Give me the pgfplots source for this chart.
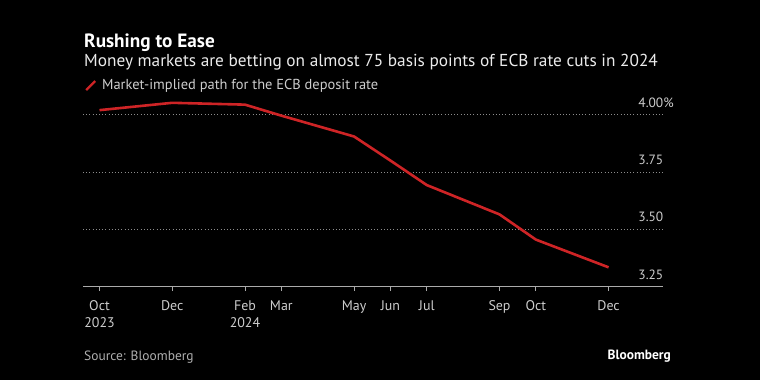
\documentclass[border=0pt]{standalone}
\usepackage{pgfplots}
\pgfplotsset{compat=1.18}
\usepackage{fontspec}
\setmainfont{PT Sans}
\definecolor{linered}{RGB}{206,36,38}
\definecolor{ticktxt}{RGB}{205,205,205}
\definecolor{gridc}{RGB}{140,140,140}
\definecolor{axisc}{RGB}{170,170,170}
\definecolor{srcc}{RGB}{175,175,175}
\begin{document}
\begin{tikzpicture}[x=1bp,y=1bp]
\fill[black] (0,0) rectangle (760,380);
\node[anchor=base west, inner sep=0, text=white, font=\bfseries\fontsize{19.3}{21}\selectfont] at (84,333) {Rushing to Ease};
\node[anchor=base west, inner sep=0, text=white!92!black, font=\fontsize{17.35}{19}\selectfont] at (84,313.5) {Money markets are betting on almost 75 basis points of ECB rate cuts in 2024};
\node[anchor=base west, inner sep=0, text=srcc, font=\fontsize{13.5}{15}\selectfont] at (84,20) {Source: Bloomberg};
\node[anchor=base east, inner sep=0, text=white, font=\bfseries\fontsize{13.5}{15}\selectfont] at (671,21) {Bloomberg};
\begin{axis}[
  at={(83bp,93.4bp)}, anchor=south west,
  width=580bp, height=194.8bp, scale only axis,
  xmin=-0.454, xmax=15.496, ymin=3.25, ymax=4.10,
  axis x line*=bottom, axis y line*=right,
  x axis line style={draw=axisc, line width=0.8bp},
  y axis line style={draw=none},
  xtick={0,2,4,5,7,8,9,11,12,14},
  xticklabels={{Oct\\2023},Dec,{Feb\\2024},Mar,May,Jun,Jul,Sep,Oct,Dec},
  xtick style={draw=axisc, line width=0.8bp},
  tick align=outside,
  major tick length=4.5bp,
  xticklabel style={align=center, text=ticktxt, font=\fontsize{14}{16.7}\selectfont, inner sep=0, yshift=-9.5bp},
  ytick={3.25,3.5,3.75,4.0},
  yticklabels={3.25,3.50,3.75,4.00\rlap{\%}},
  ytick style={draw=none},
  yticklabel style={anchor=base east, inner sep=0, text=ticktxt, font=\fontsize{13.5}{15}\selectfont, xshift=-4bp, yshift=7.5bp},
  ymajorgrids,
  grid style={draw=gridc, line width=0.7bp, dash pattern=on 0.8bp off 2.4bp},
  legend style={draw=none, fill=none, text=ticktxt, font=\fontsize{14.5}{16}\selectfont, at={(0.003,1.032)}, anchor=west, inner sep=0pt},
  legend cell align=left,
  legend image code/.code={\draw[linered, line width=2.4bp] (0bp,-4.5bp) -- (9bp,4.5bp); \path[draw=none, fill=none] (0bp,0bp) -- (14bp,0bp);},
  clip=false,
]
\addplot[linered, line width=2.6bp, line join=round] coordinates {
(0,4.02) (2,4.052) (4,4.044) (5,3.996) (7,3.905) (8,3.80) (9,3.693) (11,3.565) (12,3.455) (14,3.334)
};
\addlegendentry{Market-implied path for the ECB deposit rate}
\end{axis}
\end{tikzpicture}
\end{document}
